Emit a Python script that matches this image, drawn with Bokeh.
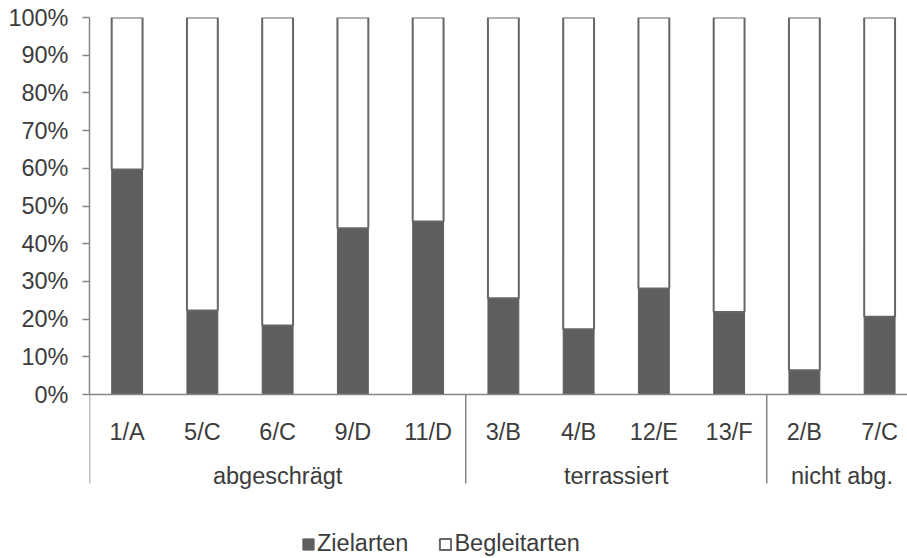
from bokeh.plotting import figure
from bokeh.models import (Range1d, LinearAxis, FixedTicker, PrintfTickFormatter,
                          ColumnDataSource, Span, Legend, LegendItem)
from bokeh.core.properties import value
from bokeh.embed import file_html
from bokeh.resources import INLINE

# Survey plots, grouped by slope treatment
sites = ["1/A", "5/C", "6/C", "9/D", "11/D", "3/B", "4/B", "12/E", "13/F", "2/B", "7/C"]
groups = ["abgeschrägt"] * 5 + ["terrassiert"] * 4 + ["nicht abg."] * 2
# Share of target species (Zielarten) in percent; the remainder are companions
zielarten = [59.7, 22.3, 18.3, 44.1, 45.9, 25.5, 17.3, 28.1, 21.9, 6.4, 20.6]
begleitarten = [100 - z for z in zielarten]
y_ticks = list(range(0, 101, 10))

FONT = "Liberation Sans"
FONT_SIZE = "23.5px"
TEXT = "#3c3c3c"
AXIS = "#868686"
DARK = "#5e5e5e"
OUTLINE = "#666666"

# canvas geometry
W, H = 907, 558
LEFT, TOP = 89, 17
ZERO_PX = 377            # distance from frame top to the 0 % line
PX = ZERO_PX / 100       # pixels per percent
CAT_PX = 75.25           # pixels per category slot
y_start = -(H - TOP - ZERO_PX) / PX
x_end = (W - LEFT) / CAT_PX


def below(px):
    """Data y for a point px pixels under the 0 % line."""
    return -px / PX


p = figure(width=W, height=H, output_backend="svg", toolbar_location=None,
           x_range=Range1d(0, x_end), y_range=Range1d(y_start, 100),
           min_border_left=LEFT, min_border_top=TOP,
           min_border_right=0, min_border_bottom=0,
           x_axis_location=None, y_axis_location=None)
p.grid.visible = False
p.outline_line_color = None
p.background_fill_color = "white"
p.border_fill_color = "white"

n = len(sites)
xs = [i + 0.5 for i in range(n)]
src = ColumnDataSource(dict(x=xs, site=sites, z=zielarten, b=begleitarten))

r_z, r_b = p.vbar_stack(["z", "b"], x="x", width=0.41, source=src,
                        fill_color=[DARK, "white"], line_color=[DARK, OUTLINE],
                        line_width=[1, 2])

# category axis: baseline, group separators, labels
p.add_layout(Span(location=0, dimension="width", line_color=AXIS, line_width=1.5))

bounds = [0] + [i for i in range(1, n) if groups[i] != groups[i - 1]]
p.segment(x0=bounds, x1=bounds, y0=[0] * len(bounds), y1=[below(89)] * len(bounds),
          line_color=AXIS, line_width=1.5)

p.text(x=xs, y=[below(37)] * n, text=sites, text_align="center",
       text_baseline="alphabetic", text_font=value(FONT),
       text_font_size=value(FONT_SIZE), text_color=TEXT)

group_names = []
group_x = []
for g in groups:
    if g not in group_names:
        group_names.append(g)
for g in group_names:
    idx = [xs[i] for i in range(n) if groups[i] == g]
    group_x.append(sum(idx) / len(idx))
p.text(x=group_x, y=[below(81)] * len(group_x), text=group_names, text_align="center",
       text_baseline="alphabetic", text_font=value(FONT),
       text_font_size=value(FONT_SIZE), text_color=TEXT)

# percent axis
yaxis = LinearAxis(ticker=FixedTicker(ticks=y_ticks),
                   formatter=PrintfTickFormatter(format="%d%%"),
                   bounds=(0, 100),
                   axis_line_color=AXIS, axis_line_width=1.5,
                   major_tick_line_color=AXIS, major_tick_line_width=1.5,
                   major_tick_out=7, major_tick_in=0,
                   minor_tick_out=0, minor_tick_in=0,
                   major_label_text_font=FONT, major_label_text_font_size=FONT_SIZE,
                   major_label_text_color=TEXT, major_label_standoff=14)
p.add_layout(yaxis, "left")

legend = Legend(items=[LegendItem(label="Zielarten", renderers=[r_z]),
                       LegendItem(label="Begleitarten", renderers=[r_b])],
                orientation="horizontal", location=(212, 1),
                glyph_width=14, glyph_height=14, label_standoff=2, spacing=30,
                padding=0, margin=0, border_line_color=None,
                background_fill_alpha=0,
                label_text_font=FONT, label_text_font_size=FONT_SIZE,
                label_text_color=TEXT)
p.add_layout(legend)

open("out.html", "w").write(file_html(p, INLINE))
